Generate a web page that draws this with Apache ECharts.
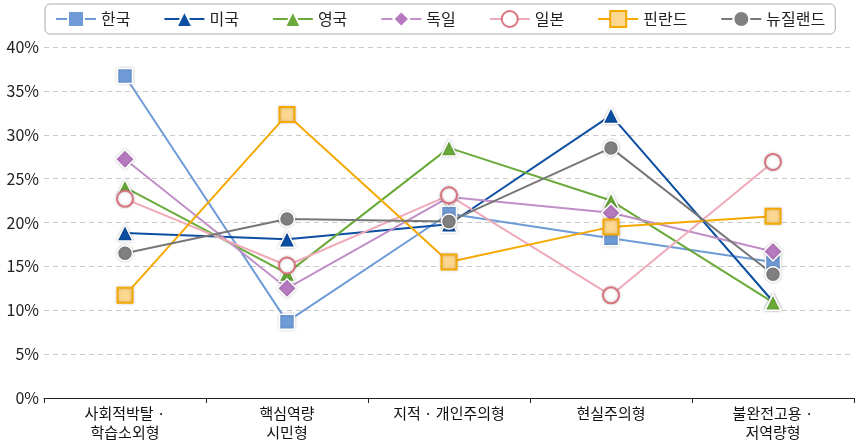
<!DOCTYPE html>
<html><head><meta charset="utf-8">
<script src="https://cdn.jsdelivr.net/npm/echarts@6/dist/echarts.min.js"></script>
<style>html,body{margin:0;padding:0;background:#fff}#c{width:862px;height:443px}</style>
</head><body><div id="c"></div>
<script>
const categories = ['사회적박탈 ·\n학습소외형', '핵심역량\n시민형', '지적 · 개인주의형', '현실주의형', '불완전고용 ·\n저역량형'];
const korea = [36.7, 8.7, 21.0, 18.2, 15.5];
const usa = [18.8, 18.1, 19.8, 32.2, 11.0];
const uk = [24.0, 14.2, 28.5, 22.5, 10.9];
const germany = [27.2, 12.5, 22.9, 21.1, 16.7];
const japan = [22.7, 15.1, 23.1, 11.7, 26.9];
const finland = [11.7, 32.3, 15.5, 19.5, 20.7];
const nz = [16.5, 20.4, 20.1, 28.5, 14.1];
const yTicks = [0, 5, 10, 15, 20, 25, 30, 35, 40];

const FONT = '"Noto Sans CJK KR", "Noto Sans", sans-serif';
function mk(name, data, line, symbol, size, fill, border, bw) {
  return {
    name, type: 'line', data, symbol, symbolSize: size,
    lineStyle: { color: line, width: 2 },
    itemStyle: { color: fill, borderColor: border, borderWidth: bw,
      shadowColor: 'rgba(0,0,0,0.22)', shadowBlur: 3 },
    emphasis: { disabled: true }
  };
}
const chart = echarts.init(document.getElementById('c'), null, { renderer: 'canvas' });
chart.setOption({
  animation: false,
  textStyle: { fontFamily: FONT },
  legend: {
    top: 4, left: 45, right: 10,
    padding: [6, 10, 6, 10],
    borderColor: '#aaa', borderWidth: 1, borderRadius: 5,
    itemWidth: 40, itemHeight: 20, itemGap: 33,
    textStyle: { fontSize: 16, color: '#222', fontFamily: FONT }
  },
  grid: { left: 44, right: 8, top: 47, bottom: 45 },
  xAxis: {
    type: 'category', data: categories, boundaryGap: true,
    axisLine: { lineStyle: { color: '#222', width: 1 } },
    axisTick: { show: true, lineStyle: { color: '#222' }, length: 5 },
    axisLabel: { fontSize: 15, color: '#111', lineHeight: 19, margin: 6, fontFamily: FONT }
  },
  yAxis: {
    type: 'value', min: 0, max: 40, interval: 5,
    axisLine: { show: false }, axisTick: { show: false },
    axisLabel: { formatter: v => yTicks.includes(v) ? v + '%' : '', fontSize: 16, color: '#222', margin: 5, fontFamily: '"Liberation Sans Narrow", ' + FONT },
    splitLine: { lineStyle: { color: '#c8c8c8', type: [5, 4], width: 1 } }
  },
  series: [
    mk('한국', korea, '#6f9bd6', 'rect', 15, '#6f9bd6', '#fff', 1.5),
    mk('미국', usa, '#0b4ea2', 'triangle', 16, '#0b4ea2', '#fff', 1.5),
    mk('영국', uk, '#6aaa3a', 'triangle', 16, '#6aaa3a', '#fff', 1.5),
    mk('독일', germany, '#c08fc7', 'diamond', 19, '#b679bf', '#fff', 1.5),
    mk('일본', japan, '#eeaab8', 'circle', 16, '#fff', '#d9737f', 2),
    mk('핀란드', finland, '#f5a800', 'rect', 15, '#fcd78f', '#f5a800', 2),
    mk('뉴질랜드', nz, '#777777', 'circle', 15, '#808080', '#fff', 1.5)
  ]
});
</script></body></html>
